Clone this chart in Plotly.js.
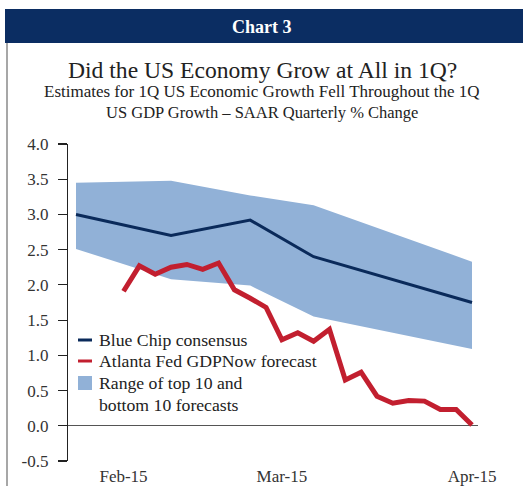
<!DOCTYPE html>
<html>
<head>
<meta charset="utf-8">
<script src="https://cdn.plot.ly/plotly-3.0.1.min.js"></script>
<style>
html,body{margin:0;padding:0;background:#fff;}
#chart{width:523px;height:486px;}
</style>
</head>
<body>
<div id="chart"></div>
<script>
// ---- Data ----
// x positions are evenly spaced observation slots (index 0..25)
const blueChipX = [0, 6, 11, 15, 25];
const blueChip = [3.0, 2.7, 2.92, 2.40, 1.75];
const rangeUpper = [3.45, 3.48, 3.27, 3.13, 2.33];
const rangeLower = [2.51, 2.08, 1.99, 1.55, 1.09];
const gdpNowX = [3,4,5,6,7,8,9,10,11,12,13,14,15,16,17,18,19,20,21,22,23,24,25];
const gdpNow = [1.91, 2.27, 2.15, 2.25, 2.29, 2.22, 2.31, 1.93, 1.81, 1.68, 1.22, 1.32, 1.20, 1.37, 0.65, 0.76, 0.42, 0.32, 0.36, 0.35, 0.23, 0.23, 0.01];
const xTickVals = [3, 13, 25];
const xTickText = ["Feb-15", "Mar-15", "Apr-15"];
const yTickVals = [-0.5, 0, 0.5, 1, 1.5, 2, 2.5, 3, 3.5, 4];
const yTickText = ["-0.5", "0.0", "0.5", "1.0", "1.5", "2.0", "2.5", "3.0", "3.5", "4.0"];
const legendLabels = ["Blue Chip consensus", "Atlanta Fed GDPNow forecast", "Range of top 10 and", "bottom 10 forecasts"];

// ---- Styles ----
const NAVY = "#0b2d62";
const LINE_NAVY = "#0a2a5a";
const RED = "#c21f2f";
const BAND = "#91b1d7";
const SERIF = "Liberation Serif, Times New Roman, serif";
const TXT = "#222";

const W = 523, H = 486;
const M = {l: 68, r: 45, t: 144, b: 25};
const PW = W - M.l - M.r, PH = H - M.t - M.b;
const px = X => (X - M.l) / PW;
const py = Y => (H - M.b - Y) / PH;

const traces = [
  {x: blueChipX, y: rangeLower, mode: "lines", line: {width: 0, color: BAND}, hoverinfo: "skip", showlegend: false},
  {x: blueChipX, y: rangeUpper, mode: "lines", line: {width: 0, color: BAND}, fill: "tonexty", fillcolor: BAND, showlegend: false},
  {x: blueChipX, y: blueChip, mode: "lines", line: {width: 3, color: LINE_NAVY}, showlegend: false},
  {x: gdpNowX, y: gdpNow, mode: "lines", line: {width: 5, color: RED, join: "miter"}, showlegend: false}
];

const shapes = [
  {type: "rect", xref: "paper", yref: "paper", x0: px(5), x1: px(523), y0: py(43), y1: py(9), fillcolor: NAVY, line: {width: 0}, layer: "above"},
  {type: "line", xref: "paper", yref: "paper", x0: px(7), x1: px(7), y0: py(43), y1: py(486), line: {color: "#8a8a8a", width: 1.5}},
  // legend keys
  {type: "line", xref: "paper", yref: "paper", x0: px(78), x1: px(92), y0: py(340), y1: py(340), line: {color: LINE_NAVY, width: 3}},
  {type: "line", xref: "paper", yref: "paper", x0: px(78), x1: px(92), y0: py(361), y1: py(361), line: {color: RED, width: 3}},
  {type: "rect", xref: "paper", yref: "paper", x0: px(78), x1: px(92), y0: py(390), y1: py(376), fillcolor: BAND, line: {width: 0}}
];

const ann = (text, X, Y, size, opts) => Object.assign({
  text: text, xref: "paper", yref: "paper", x: px(X), y: py(Y),
  xanchor: "center", yanchor: "middle", showarrow: false,
  font: {family: SERIF, size: size, color: TXT}
}, opts || {});

const annotations = [
  ann("<b>Chart 3</b>", 262, 27, 18, {font: {family: SERIF, size: 18, color: "#ffffff"}}),
  ann("Did the US Economy Grow at All in 1Q?", 262, 70, 23.6),
  ann("Estimates for 1Q US Economic Growth Fell Throughout the 1Q", 262, 92, 17),
  ann("US GDP Growth \u2013 SAAR Quarterly % Change", 262, 113, 16.5),
  ann(legendLabels[0], 97, 340, 17.7, {xanchor: "left"}),
  ann(legendLabels[1], 97, 361, 17.7, {xanchor: "left"}),
  ann(legendLabels[2], 97, 383, 17.7, {xanchor: "left"}),
  ann(legendLabels[3], 97, 405, 17.7, {xanchor: "left"})
];

const layout = {
  width: W, height: H,
  margin: M,
  paper_bgcolor: "#ffffff", plot_bgcolor: "#ffffff",
  showlegend: false,
  xaxis: {
    range: [-8 / 15.84, 25 + 6 / 15.84],
    showgrid: false, zeroline: false, showline: false,
    tickmode: "array", tickvals: xTickVals, ticktext: xTickText,
    ticks: "", ticklabelstandoff: 3,
    tickfont: {family: SERIF, size: 17, color: "#333"}
  },
  yaxis: {
    range: [-0.5, 4.0],
    showgrid: false,
    zeroline: true, zerolinecolor: "#555", zerolinewidth: 1.2,
    showline: true, linecolor: "#222", linewidth: 1.2,
    ticks: "outside", ticklen: 9, tickcolor: "#222", tickwidth: 1.2,
    ticklabelstandoff: 6,
    tickmode: "array", tickvals: yTickVals, ticktext: yTickText,
    tickfont: {family: SERIF, size: 17, color: "#333"}
  },
  shapes: shapes,
  annotations: annotations
};

Plotly.newPlot("chart", traces, layout, {staticPlot: true, displayModeBar: false});
</script>
</body>
</html>
